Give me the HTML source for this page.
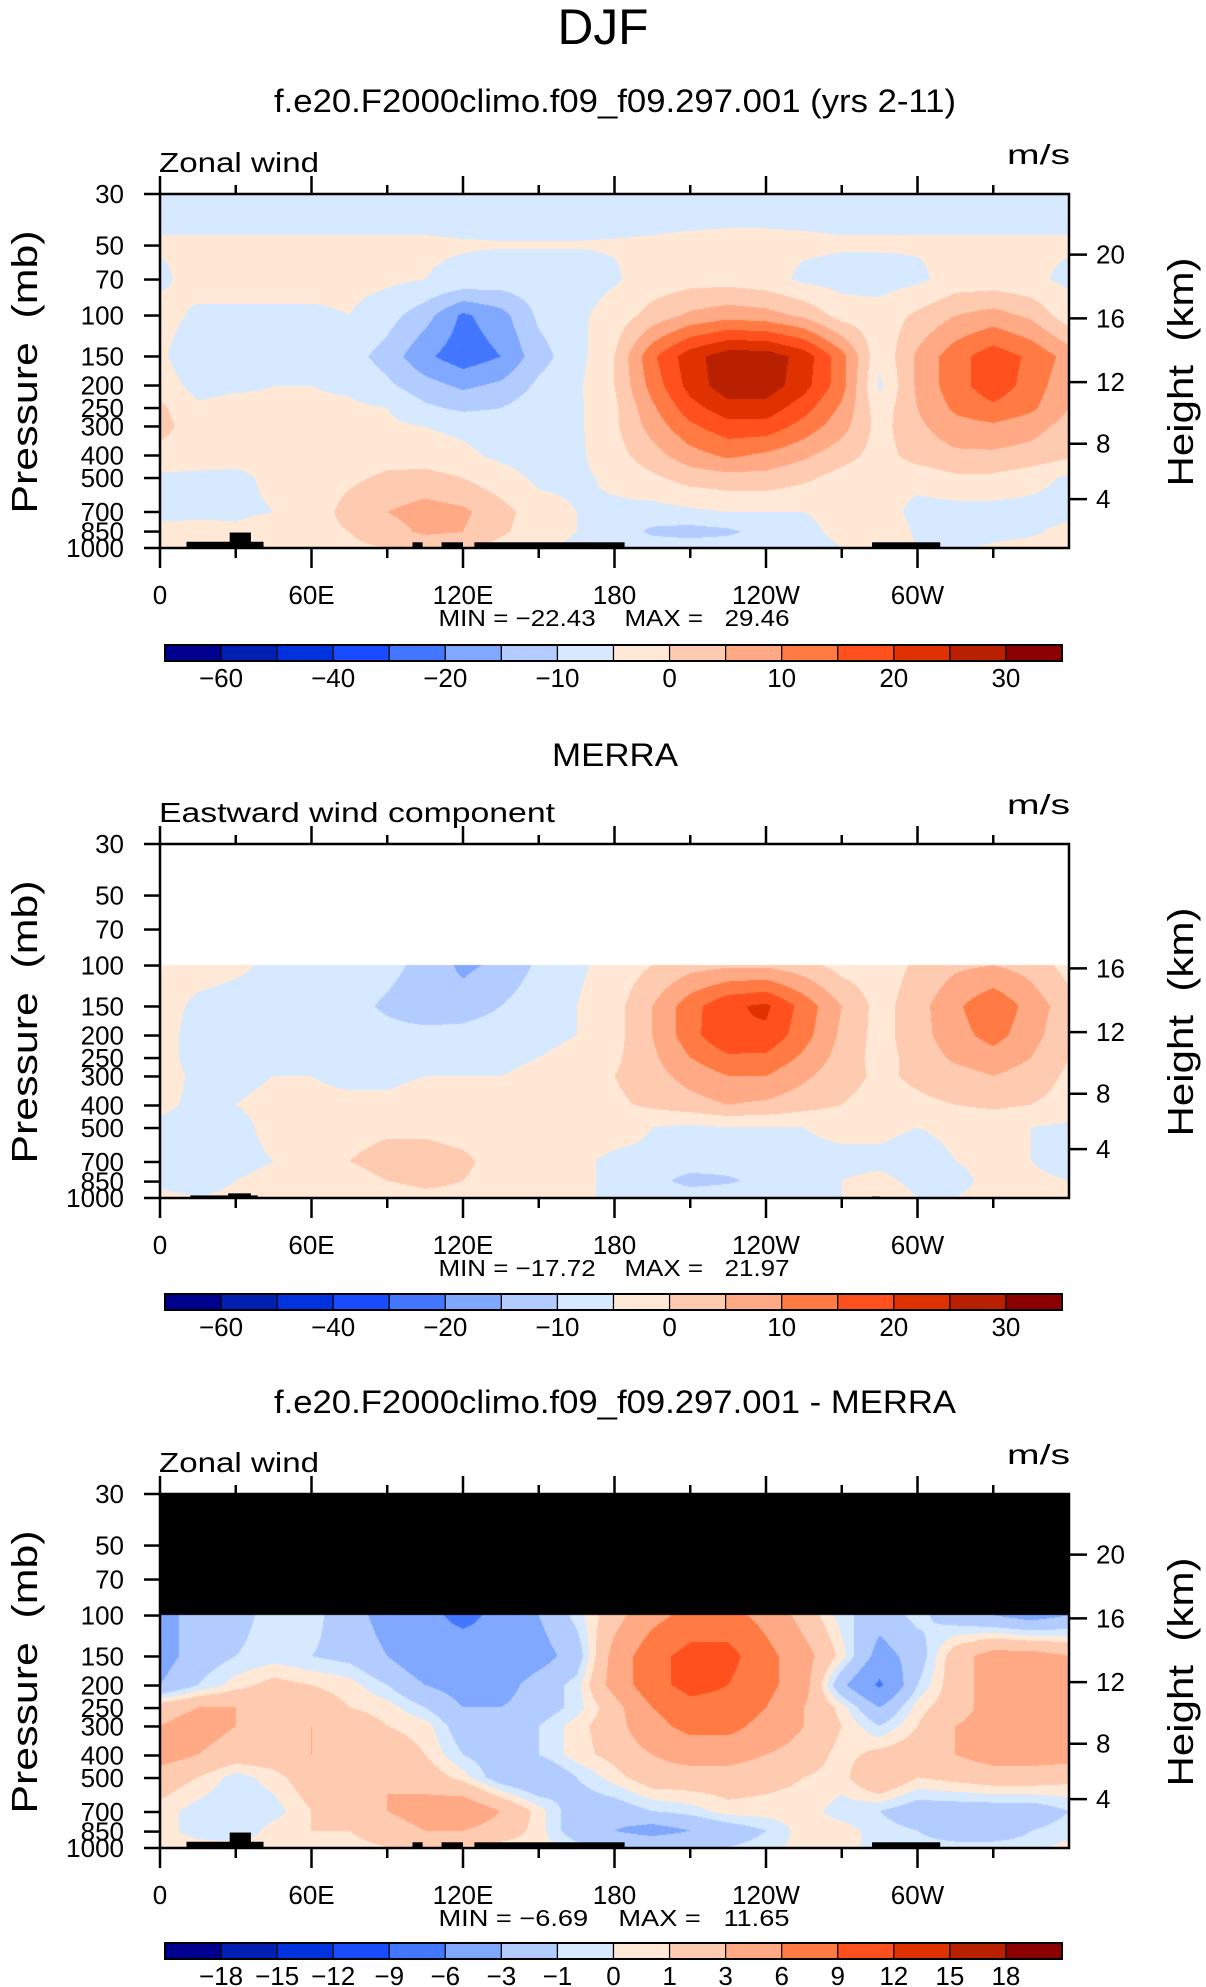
<!DOCTYPE html>
<html><head><meta charset="utf-8"><style>
html,body{margin:0;padding:0;background:#fff;}
#wrap{position:relative;width:1206px;height:1987px;overflow:hidden;background:#fff;}
canvas{position:absolute;}
svg{position:absolute;left:0;top:0;}
text{font-family:"Liberation Sans",sans-serif;fill:#000;white-space:pre;}
</style></head><body>
<div id="wrap">
<canvas id="c1" width="909" height="354" style="left:160px;top:194px"></canvas>
<canvas id="c2" width="909" height="353" style="left:160px;top:844px"></canvas>
<canvas id="c3" width="909" height="353" style="left:160px;top:1494px"></canvas>
<svg id="ov" width="1206" height="1987" xmlns="http://www.w3.org/2000/svg"></svg>
</div>
<script>
const lons=[0,15,30,45,60,75,90,105,120,135,150,165,180,195,210,225,240,255,270,285,300,315,330,345,360];
const pLevels=[30,50,70,100,150,200,250,300,400,500,700,850,1000];
const modelU=[
[-7,-7,-7,-7,-7,-7,-7,-7,-7,-7,-7,-7,-7,-7,-7,-7,-7,-7,-7,-7,-7,-7,-7,-7,-7],
[-4.5,-4.5,-4.5,-4.5,-4.5,-4.5,-4.5,-4.5,-4.7,-4.8,-4.8,-4.8,-4.7,-4.5,-4.2,-4,-4,-4.2,-4.5,-4.5,-4.5,-4.5,-4.5,-4.5,-4.5],
[-6,-3,-3,-3,-3,-3.5,-4,-5,-6,-7,-7,-7,-5.5,-3,-2,-2,-3,-6,-7,-7,-6,-3,-3,-4,-6],
[-3,-6,-6,-6,-6,-5,-8,-13,-21,-17,-9,-6,-3,2,6,8,7,4,-2,-3,1,5,7,4,-3],
[-4,-9,-8,-7,-7,-8,-12,-19,-23,-20,-12,-7,0,14,23,28,28,23,12,-4,6,13,18,14,8],
[-2,-7,-6,-5,-5,-6,-9,-13,-16,-14,-9,-6,0,12,22,28,28,22,12,-6,6,13,18,13,6],
[1,-4,-3,-4,-4,-4,-5,-9,-11,-10,-7,-6,-1,9,18,23,23,17,9,-3,5,11,14,11,5],
[2,-3,-3,-3,-3,-3,-4,-5,-6,-7,-7,-6,-1,7,14,18,18,13,7,-2,4,8,9,7,3],
[-2,-3,-3.5,-4,-4,-3,-2,-3,-4,-6,-7,-6,-2,3,8,11,9,6,2,-2,2,4,4,3,1],
[-6,-6,-6,-4,-3,-1,1,2,0,-3,-6,-6,-4,-1,2,3,3,1,-2,-3,-3,-1,-1,-3,-6],
[-7,-7,-6,-5,-3,2,5,7,6,2,-3,-5,-6,-7,-6,-5,-5,-5,-4,-2,-7,-7,-7,-7,-7],
[-3,-2,-4,-2,-2,0,3,6,5,1,-3,-5,-7,-11,-12,-11,-8,-6,-4,0,-6,-7,-7,-6,-3],
[-1,-2,-3,-3,-2,-1,0,1,1,-2,-4,-6,-7,-7,-7,-7,-7,-7,-5,-2,-5,-6,-4,-3,-1]
];
const merraU=[
null,null,null,
[-3,-3,-4,-6,-6,-6,-8,-12,-16,-14,-9,-6,-3,0,3,4,4,2,-2,-3,1,4,5,3,-2],
[-3,-6,-7,-7,-7,-8,-11,-14,-13,-10,-7,-5,-2,5,13,19,21,13,5,-2,3,9,14,8,2],
[-3,-7,-7,-6,-6,-7,-8,-8,-8,-7,-6,-5,-2,5,13,20,19,12,4,-2,3,8,12,7,1],
[-3,-7,-7,-6,-6,-6,-7,-7,-7,-6,-5,-4,-1,4,10,14,14,9,3,-2,2,6,8,5,0],
[-3,-6,-6,-5,-5,-6,-6,-5,-5,-5,-4,-3,0,3,7,10,10,6,2,-1,1,3,5,3,-1],
[-4,-6,-5,-4,-4,-4,-4,-3,-3,-4,-4,-3,-1,1,3,5,4,2,0,-2,-1,0,1,0,-2],
[-6,-7,-6,-4,-3,-2,-1,-1,-2,-3,-3,-3,-3,-5,-6,-5,-5,-5,-4,-4,-5,-4,-4,-5,-6],
[-7,-7,-6,-5,-3,0,2,2,1,-2,-3,-4,-6,-6,-7,-7,-6,-6,-6,-6,-7,-5,-4,-5,-7],
[-6,-7,-5,-4,-3,-2,0,1,0,-2,-3,-4,-6,-8,-12,-11,-8,-6,-5,-4,-6,-6,-4,-4,-5],
[-4,-5,-4,-3,-3,-2,-2,-1,-1,-2,-3,-4,-6,-6,-7,-6,-6,-6,-5,-3,-5,-5,-4,-4,-4]
];
const diffU=[
null,null,null,
[-4,-2,-1.5,-0.5,-0.5,-2,-4,-5,-7,-5,-3,-0.5,2,5,7,7,5,2,-0.5,-2,-0.5,-2,-3,-4,-3],
[-4,-2,-1,-0.5,-1,-1.5,-3,-5,-4,-5,-4,-2,4,8,10,10,7,4,0.5,-4,-2,2,4,4,3],
[-3,-1,0.5,1.5,1,0.5,-1,-3,-4,-4,-2,-0.5,4,8,10,9,7,4,-2.5,-6.5,-1,2,4,4,4],
[2,3,3,2,2,1,0.5,-1,-3,-3,-2,-0.5,2,6,8,8,6,3,0.5,-3,0.5,2,4,4,4],
[3,4,3,2,3,2,1,0.5,-2,-2,-1,0.5,2,5,7,7,5,3,1,-1,1,3,4,4,4],
[4,3,2,2,3,3,2,1,-1,-2,-1,0.5,1.5,3,4,4,3,2,0.5,1.5,2,3,4,4,4],
[2,1,-0.5,0.5,2,3,3,2,0.5,-2,-3,-1,0.5,2,2,2,1.5,1,0.5,3,1,1.5,2,2,1.5],
[0.5,-0.5,-1,-0.5,1,2,3,4,5,3,0.5,-2,-2,-1,-0.5,0.5,0.5,0.5,-0.5,-1,-2,-2,-2,-2,-1],
[0.5,-0.5,-1,0.5,1,1,2,3,3,2,0.5,-2,-3,-4,-3,-2,-1,0.5,0.5,-0.5,-1,-2,-2,-1,-0.5],
[0.5,0.5,0.5,0.5,0.5,0.5,1,1,1,0.5,0.5,-0.5,-1,-1,-1,-1,-0.5,0.5,0.5,-0.5,-0.5,-0.5,-0.5,-0.5,0.5]
];
const windLevels=[-60,-50,-40,-30,-20,-15,-10,-5,0,5,10,15,20,25,30];
const windLabels=["-60","","-40","","-20","","-10","","0","","10","","20","","30"];
const diffLevels=[-18,-15,-12,-9,-6,-3,-1,0,1,3,6,9,12,15,18];
const diffLabels=["-18","-15","-12","-9","-6","-3","-1","0","1","3","6","9","12","15","18"];
const palette=["#00008f","#0020b4","#0033dd","#1a4cff","#4477ff","#80a8ff","#b3ccff","#d6e9ff","#ffe9d6","#ffcbb0","#ffa985","#ff7b43","#ff501e","#e03200","#b82000","#8b0000"];
const pressTicks=[30,50,70,100,150,200,250,300,400,500,700,850,1000];
const heightTicks=[4,8,12,16,20];
const lonTickVals=[0,60,120,180,240,300];
const lonTickLabels=["0","60E","120E","180","120W","60W"];
const stats=[["-22.43","29.46"],["-17.72","21.97"],["-6.69","11.65"]];

const X0=160,PW=909,PH=354;
const LN=Math.log(1000/30);
function xOf(lon){return X0+lon/360*PW;}
function yOf(p,top){return top+Math.log(p/30)/LN*PH;}
function zToP(z){return z<=11?1013.25*Math.pow(1-z/44.33,5.256):226.3*Math.exp(-(z-11)/6.34);}
function hexRGB(h){return [parseInt(h.substr(1,2),16),parseInt(h.substr(3,2),16),parseInt(h.substr(5,2),16)];}
const palRGB=palette.map(hexRGB);
function binIdx(v,lev){let k=0;for(const l of lev){if(v>=l)k++;}return k;}

function drawField(id,grid,lev,fillTop){
  const cv=document.getElementById(id),ctx=cv.getContext('2d');
  const w=cv.width,h=cv.height,img=ctx.createImageData(w,h);
  const lp=pLevels.map(p=>Math.log(p));
  for(let py=0;py<h;py++){
    const p=30*Math.exp((py+0.5)/h*LN), L=Math.log(p);
    let j=0;while(j<pLevels.length-2&&L>lp[j+1])j++;
    const ty=Math.min(1,Math.max(0,(L-lp[j])/(lp[j+1]-lp[j])));
    for(let px=0;px<w;px++){
      const o=(py*w+px)*4;let c;
      if(!grid[j]||(!grid[j+1])||(p<100&&fillTop)){c=fillTop==='black'?[0,0,0]:[255,255,255];}
      else{
        const lon=(px+0.5)/w*360;let i=Math.min(lons.length-2,Math.floor(lon/15));
        const tx=(lon-lons[i])/15;
        const v=(grid[j][i]*(1-tx)+grid[j][i+1]*tx)*(1-ty)+(grid[j+1][i]*(1-tx)+grid[j+1][i+1]*tx)*ty;
        c=palRGB[binIdx(v,lev)];
      }
      img.data[o]=c[0];img.data[o+1]=c[1];img.data[o+2]=c[2];img.data[o+3]=255;
    }
  }
  ctx.putImageData(img,0,0);
}
drawField('c1',modelU,windLevels,null);
drawField('c2',merraU,windLevels,'white');
drawField('c3',diffU,diffLevels,'black');

const NS="http://www.w3.org/2000/svg",svg=document.getElementById('ov');
function mk(tag,attrs,parent){const e=document.createElementNS(NS,tag);for(const k in attrs)e.setAttribute(k,attrs[k]);(parent||svg).appendChild(e);return e;}
function txt(s,x,y,size,anchor,extra,parent){const t=mk('text',Object.assign({x:x,y:y,'font-size':size,'text-anchor':anchor||'middle'},extra||{}),parent);t.textContent=s;return t;}

let t;
t=txt("DJF",603,44,50,'middle',{'textLength':91,'lengthAdjust':'spacingAndGlyphs'});



const panels=[
 {top:194,title:"f.e20.F2000climo.f09_f09.297.001 (yrs 2-11)",tY:112,tW:682,left:"Zonal wind",lW:160,topo:[[10.5,41,940],[27.6,36,858],[100,104,945],[111.5,120,945],[124.5,184,945],[282,309,945]],hmax:20,cb:645,lev:windLabels,name:"model"},
 {top:844,title:"MERRA",tY:766,tW:126,left:"Eastward wind component",lW:396,topo:[[12,38.7,975],[27,36,955],[282,285,985]],hmax:16,cb:1294,lev:windLabels,name:"merra"},
 {top:1494,title:"f.e20.F2000climo.f09_f09.297.001 - MERRA",tY:1413,tW:682,left:"Zonal wind",lW:160,topo:[[10.5,41,940],[27.6,36,858],[100,104,945],[111.5,120,945],[124.5,184,945],[282,309,945]],hmax:20,cb:1943,lev:diffLabels,name:"difference"}
];
panels.forEach((P,pi)=>{
  const g=mk('g',{});
  
  
  const top=P.top,bot=top+PH;
  let e=txt(P.title,615,P.tY,32,'middle',{'textLength':P.tW,'lengthAdjust':'spacingAndGlyphs'},g);
  
  
  e=txt(P.left,159,top-22,28,'start',{'textLength':P.lW,'lengthAdjust':'spacingAndGlyphs'},g);
  
  
  e=txt("m/s",1070,top-30,28,'end',{'textLength':63,'lengthAdjust':'spacingAndGlyphs'},g);
  
  
  P.topo.forEach(r=>{
    const rr=mk('rect',{x:xOf(r[0]),y:yOf(r[2],top),width:xOf(r[1])-xOf(r[0]),height:bot-yOf(r[2],top),fill:'#000'},g);
    
    
  });
  e=mk('rect',{x:X0,y:top,width:PW,height:PH,fill:'none',stroke:'#000','stroke-width':2.5},g);
  
  
  pressTicks.forEach(p=>{
    const y=yOf(p,top);
    mk('line',{x1:X0-16,y1:y,x2:X0,y2:y,stroke:'#000','stroke-width':2.5},g);
    const l=txt(String(p),124,y+9,26,'end',{},g);
    
    
  });
  heightTicks.filter(z=>z<=P.hmax).forEach(z=>{
    const y=yOf(zToP(z),top);
    mk('line',{x1:X0+PW,y1:y,x2:X0+PW+18,y2:y,stroke:'#000','stroke-width':2.5},g);
    const l=txt(String(z),1096,y+9,26,'start',{},g);
    
    
  });
  for(let lon=0;lon<=330;lon+=30){
    const x=xOf(lon),maj=lon%60===0;
    mk('line',{x1:x,y1:top,x2:x,y2:top-(maj?18:9),stroke:'#000','stroke-width':2.5},g);
    mk('line',{x1:x,y1:bot,x2:x,y2:bot+(maj?20:10),stroke:'#000','stroke-width':2.5},g);
  }
  lonTickVals.forEach((lon,i)=>{
    const l=txt(lonTickLabels[i],xOf(lon),bot+56,26,'middle',{},g);
    
    
  });
  e=txt("MIN = "+stats[pi][0].replace('-','\u2212')+"    MAX =   "+stats[pi][1],614,bot+78,23,'middle',{'textLength':351,'lengthAdjust':'spacingAndGlyphs'},g);
  
  
  const cy=top+178;
  e=txt("Pressure  (mb)",0,0,36,'middle',{transform:`translate(37,${cy}) rotate(-90)`,'textLength':283,'lengthAdjust':'spacingAndGlyphs'},g);
  
  
  e=txt("Height  (km)",0,0,36,'middle',{transform:`translate(1193,${cy}) rotate(-90)`,'textLength':229,'lengthAdjust':'spacingAndGlyphs'},g);
  
  
  const cbx=165,cbw=897/16;
  const cbG=mk('g',{},g);
  
  
  palette.forEach((c,k)=>{
    const r=mk('rect',{x:cbx+k*cbw,y:P.cb,width:cbw,height:16,fill:c,stroke:'#000','stroke-width':1.2},cbG);
    
    
  });
  mk('rect',{x:cbx,y:P.cb,width:897,height:16,fill:'none',stroke:'#000','stroke-width':2},cbG);
  P.lev.forEach((s,k)=>{
    if(!s)return;
    const l=txt(s.replace('-','\u2212'),cbx+(k+1)*cbw,P.cb+42,26,'middle',{},cbG);
    
    
  });
});
</script>
</body></html>
